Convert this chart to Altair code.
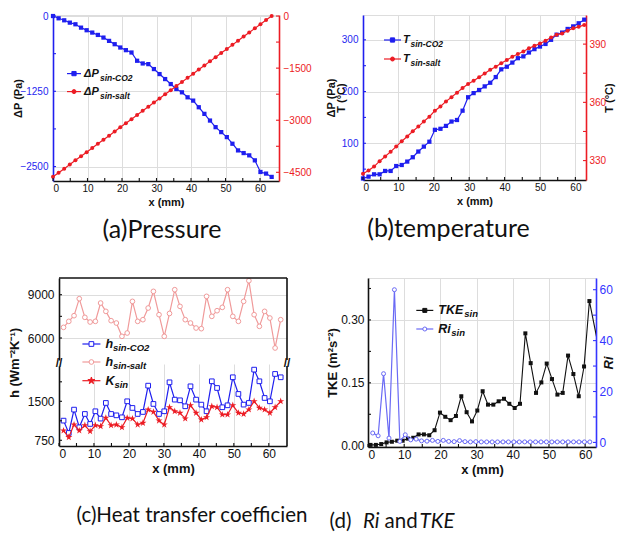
import altair as alt
import pandas as pd

BLUE = "#1f1fef"
RED = "#ec1c24"
PINK = "#f09a9a"
LBLUE = "#6a6af5"
RBLUE = "#3535ff"
BLACK = "#111111"
AXF = "Liberation Sans"
CAPF = "Lato"

# ---------------- (a) Pressure ----------------
XA = [0, 1.625, 3.25, 4.875, 6.5, 8.125, 9.75, 11.375, 13, 14.625, 16.25, 17.875, 19.5, 21.125,
      22.75, 24.375, 26, 27.625, 29.25, 30.875, 32.5, 34.125, 35.75, 37.375, 39, 40.625, 42.25,
      43.875, 45.5, 47.125, 48.75, 50.375, 52, 53.625, 55.25, 56.875, 58.5, 60.125, 61.75, 63.375]
DP_CO2 = [0, -38, -71, -110, -137, -193, -236, -275, -314, -358, -413, -468, -523, -567, -606,
          -743, -788, -799, -881, -964, -1047, -1130, -1212, -1267, -1350, -1405, -1515, -1625,
          -1736, -1846, -1928, -2011, -2121, -2232, -2276, -2314, -2397, -2590, -2617, -2672]
DP_SALT = [-4630, -4510, -4395, -4275, -4155, -4035, -3920, -3800, -3680, -3560, -3445, -3325,
           -3205, -3085, -2970, -2850, -2730, -2610, -2490, -2375, -2255, -2135, -2015, -1900,
           -1780, -1660, -1540, -1425, -1305, -1185, -1065, -950, -830, -710, -590, -475, -355,
           -235, -115, 0]

# ---------------- (b) temperature ----------------
XB = [0, 1.56, 3.13, 4.69, 6.25, 7.81, 9.38, 10.94, 12.5, 14.06, 15.63, 17.19, 18.75, 20.31,
      21.88, 23.44, 25, 26.56, 28.13, 29.69, 31.25, 32.81, 34.38, 35.94, 37.5, 39.06, 40.63,
      42.19, 43.75, 45.31, 46.88, 48.44, 50, 51.56, 53.13, 54.69, 56.25, 57.81, 59.38, 60.94, 62.5]
T_CO2 = [32, 35.5, 40, 40, 46.5, 46.5, 56, 58, 64.6, 73, 84, 93.6, 103, 126, 128, 133.6, 142, 145,
         163, 189, 197, 203, 210, 217, 228, 243, 248, 256, 264.5, 268, 275.5, 282, 287, 292, 300,
         310, 314, 321, 326, 332, 339]
T_SALT = [323.2, 324.9, 326.9, 329.7, 332.1, 334.6, 337.2, 340, 342.4, 345.1, 347.5, 350.2, 352.6,
          355.7, 357.9, 360.5, 362.6, 365, 367.4, 369.4, 371.1, 372.9, 374.9, 376.8, 378.3, 380.1,
          381.8, 383.5, 384.9, 386.2, 387.9, 389.1, 390.3, 391.7, 393.4, 394.8, 395.5, 396.9,
          398.2, 398.9, 399.9]

# ---------------- (c) heat transfer coefficient ----------------
XC = [1.3, 2.8, 4.3, 5.8, 7.4, 8.9, 10.4, 11.9, 13.4, 14.9, 16.4, 18.0, 19.5, 21.0, 22.5, 24.0,
      25.5, 27.0, 28.6, 30.1, 31.6, 33.1, 34.6, 36.1, 37.6, 39.2, 40.7, 42.2, 43.7, 45.2, 46.7,
      48.2, 49.7, 51.3, 52.8, 54.3, 55.8, 57.3, 58.8, 60.3, 61.8, 63.4]
H_SALT = [6738, 7154, 7546, 8723, 7431, 7108, 7154, 8423, 7846, 7200, 7038, 6115, 6346, 8538,
          7154, 7269, 8077, 9231, 7615, 6115, 7700, 9346, 8192, 7269, 7038, 6692, 6646, 8885,
          7500, 7892, 8123, 9346, 7500, 7154, 8538, 9969, 7615, 6808, 7846, 7385, 5308, 7269]
H_CO2 = [1128, 891, 1340, 1000, 1256, 1064, 1308, 1167, 1468, 1256, 1230, 1192, 1500, 1372, 1256,
         1295, 1801, 1449, 1256, 1308, 1865, 1532, 1519, 1404, 1788, 1532, 1436, 1308, 1885, 1756,
         1385, 1423, 1962, 1641, 1436, 1468, 2109, 1885, 1564, 1500, 2026, 1962]
K_SIN = [936, 808, 1051, 936, 1038, 923, 1038, 1019, 1180, 1038, 1051, 1000, 1180, 1167, 1051,
         1083, 1340, 1295, 1128, 1051, 1385, 1308, 1276, 1167, 1423, 1276, 1147, 1192, 1404, 1385,
         1244, 1244, 1423, 1276, 1256, 1340, 1500, 1372, 1340, 1276, 1385, 1500]

# ---------------- (d) Ri and TKE ----------------
XD_TKE = [0.7, 2.18, 3.65, 5.13, 6.6, 8.08, 9.55, 11.03, 12.5, 13.98, 15.45, 16.93, 18.4, 19.88,
          21.35, 22.83, 24.3, 25.78, 27.25, 28.73, 30.2, 31.68, 33.15, 34.63, 36.1, 37.58, 39.05,
          40.53, 42.0, 43.48, 44.95, 46.43, 47.9, 49.38, 50.85, 52.33, 53.8, 55.28, 56.75, 58.23,
          59.7, 61.18, 63.6]
TKE = [0.002, 0.002, 0.004, 0.008, 0.0095, 0.012, 0.012, 0.017, 0.019, 0.027, 0.027, 0.025, 0.037,
       0.079, 0.069, 0.061, 0.071, 0.118, 0.080, 0.058, 0.084, 0.130, 0.098, 0.098, 0.106, 0.112,
       0.100, 0.090, 0.100, 0.268, 0.197, 0.126, 0.151, 0.196, 0.159, 0.122, 0.126, 0.215, 0.171,
       0.118, 0.189, 0.345, 0.24]
XD_RI = [1.3, 2.8, 4.3, 5.8, 7.3, 8.8, 10.3, 11.8, 13.3, 14.8, 16.3, 17.8, 19.3, 20.8, 22.3, 23.8,
         25.3, 26.8, 28.3, 29.8, 31.3, 32.8, 34.3, 35.8, 37.3, 38.8, 40.3, 41.8, 43.3, 44.8, 46.3,
         47.8, 49.3, 50.8, 52.3, 53.8, 55.3, 56.8, 58.3, 59.8, 61.3]
RI = [3.7, 2.6, 27.0, 1.7, 60.0, 0.4, 3.0, 1.0, 1.3, 0.6, 0.5, 0.8, 0.4, 0.8, 0.4, 0.3, 0.7, 0.3,
      0.2, 0.3, 0.2, 0.2, 0.2, 0.2, 0.2, 0.2, 0.2, 0.2, 0.2, 0.2, 0.2, 0.2, 0.2, 0.2, 0.2, 0.2,
      0.2, 0.2, 0.2, 0.2, 0.2]

# tick positions (labelled ticks and the minor ticks between them)
XTICKS = [0, 10, 20, 30, 40, 50, 60]
XMINOR = [0, 5, 10, 15, 20, 25, 30, 35, 40, 45, 50, 55, 60]
TA_L = [-2500, -1875, -1250, -625, 0]
TA_R = [-4500, -3750, -3000, -2250, -1500, -750, 0]
TB_L = [50, 100, 150, 200, 250, 300]
TB_R = [330, 345, 360, 375, 390]
TC_U = [6000, 7500, 9000]
TC_L = [750, 1125, 1500, 1875]
TD_L = [0, 0.075, 0.15, 0.225, 0.30, 0.375]
TD_R = [0, 10, 20, 30, 40, 50, 60]

DUMMY = pd.DataFrame({"k": [0]})
STAR = ("M0,-1L0.2245,-0.309L0.951,-0.309L0.363,0.118L0.588,0.809L0,0.382L-0.588,0.809"
        "L-0.363,0.118L-0.951,-0.309L-0.2245,-0.309Z")
TL = 3  # inward tick length


def xaxis(fs, tfs):
    return alt.Axis(values=XTICKS, title="x (mm)", labelFontSize=fs, titleFontSize=tfs,
                    domainColor=BLACK, labelColor=BLACK, titleColor=BLACK, ticks=False,
                    labelPadding=2, titlePadding=3, domainWidth=1.6, format="d")


def yaxis(values, color, orient, fs, tfs, title="", fmt="d", **kw):
    args = dict(values=values, orient=orient, labelFontSize=fs, domainColor=color,
                labelColor=color, ticks=False, labelPadding=5, domainWidth=1.6, format=fmt,
                titleFontSize=tfs, titleColor=BLACK, title=title)
    args.update(kw)
    return alt.Axis(**args)


def xticks(xs, ax, h):
    return alt.Chart(pd.DataFrame({"x": XMINOR})).mark_rule(color=BLACK, strokeWidth=1.1).encode(
        x=alt.X("x:Q", scale=xs, axis=ax), y=alt.value(h), y2=alt.value(h - TL))


def yticks(vals, field, ys, ax, x0, tcolor):
    return alt.Chart(pd.DataFrame({field: vals})).mark_rule(color=tcolor, strokeWidth=1.1).encode(
        y=alt.Y(field + ":Q", scale=ys, axis=ax), x=alt.value(x0), x2=alt.value(x0 + TL))


def legend_item(x0, y, lc, shape, fill, msize, main, sub, main_w, fs, sfs, line_len, gap):
    base = alt.Chart(DUMMY)
    line = base.mark_rule(color=lc, strokeWidth=1.2).encode(
        x=alt.value(x0), x2=alt.value(x0 + line_len), y=alt.value(y))
    pt = base.mark_point(shape=shape, filled=True, fill=fill, stroke=lc, strokeWidth=1,
                         size=msize, opacity=1).encode(x=alt.value(x0 + line_len / 2), y=alt.value(y))
    t1 = base.mark_text(align="left", baseline="middle", font=AXF, fontSize=fs, fontWeight="bold",
                        fontStyle="italic", color=BLACK).encode(
        x=alt.value(x0 + line_len + gap), y=alt.value(y), text=alt.value(main))
    t2 = base.mark_text(align="left", baseline="middle", font=AXF, fontSize=sfs, fontWeight="bold",
                        fontStyle="italic", color=BLACK).encode(
        x=alt.value(x0 + line_len + gap + main_w), y=alt.value(y + 4), text=alt.value(sub))
    return [line, pt, t1, t2]


def caption(text, dx, offset, fs):
    return alt.TitleParams(text, orient="bottom", font=CAPF, fontSize=fs, fontWeight="normal",
                           color=BLACK, offset=offset, frame="group", anchor="middle", dx=dx)


def series(df, field, lc, xs, xax, ys, yax, marker, **mk):
    return alt.Chart(df).mark_line(color=lc, strokeWidth=1.2, point=alt.OverlayMarkDef(
        shape=marker, **mk)).encode(x=alt.X("x:Q", scale=xs, axis=xax),
                                    y=alt.Y(field + ":Q", scale=ys, axis=yax))


# ---------------- panel (a) ----------------
WA, HA = 226, 166
dfa = pd.DataFrame({"x": XA, "co2": DP_CO2, "salt": DP_SALT})
xsa = alt.Scale(domain=[0, 65.5], nice=False, zero=False)
xaa = xaxis(10, 11)
ysa_l = alt.Scale(domain=[-2740, 17], nice=False, zero=False)
yaa_l = yaxis([-2500, -1250, 0], BLUE, "left", 10, 11, "ΔP (Pa)", titleX=-30)
ysa_r = alt.Scale(domain=[-4750, 30], nice=False, zero=False)
yaa_r = yaxis([-4500, -3000, -1500, 0], RED, "right", 10, 11, labelPadding=4)
a_left = alt.layer(
    series(dfa, "co2", BLUE, xsa, xaa, ysa_l, yaa_l, "square", filled=True, color=BLUE, size=18),
    yticks(TA_L, "co2", ysa_l, yaa_l, 0, BLUE))
a_right = alt.layer(
    series(dfa, "salt", RED, xsa, xaa, ysa_r, yaa_r, "circle", filled=True, color=RED, size=16),
    yticks(TA_R, "salt", ysa_r, yaa_r, WA - TL, RED))
a_leg = (legend_item(14, 58.6, BLUE, "square", BLUE, 18, "ΔP", "sin-CO2", 16, 11, 8.5, 14, 3)
         + legend_item(14, 76.6, RED, "circle", RED, 16, "ΔP", "sin-salt", 16, 11, 8.5, 14, 3))
chart_a = alt.layer(alt.layer(a_left, a_right).resolve_scale(y="independent"),
                    xticks(xsa, xaa, HA), *a_leg).properties(
    width=WA, height=HA, title=caption("(a)Pressure", -4, 11, 25))

# ---------------- panel (b) ----------------
WB, HB = 223, 165
dfb = pd.DataFrame({"x": XB, "co2": T_CO2, "salt": T_SALT})
xsb = alt.Scale(domain=[0, 63], nice=False, zero=False)
xab = xaxis(10, 11)
ysb_l = alt.Scale(domain=[29, 348], nice=False, zero=False)
yab_l = yaxis([100, 200, 300], BLUE, "left", 10, 11, ["ΔP (Pa)", "T (°C)"],
              titleLineHeight=10, titleX=-27)
ysb_r = alt.Scale(domain=[320, 405], nice=False, zero=False)
yab_r = yaxis([330, 360, 390], RED, "right", 10, 11, "T (°C)", titleAngle=270,
              titleBaseline="top", titleX=17, labelPadding=3)
b_left = alt.layer(
    series(dfb, "co2", BLUE, xsb, xab, ysb_l, yab_l, "square", filled=True, color=BLUE, size=18),
    yticks(TB_L, "co2", ysb_l, yab_l, 0, BLUE))
b_right = alt.layer(
    series(dfb, "salt", RED, xsb, xab, ysb_r, yab_r, "circle", filled=True, color=RED, size=16),
    yticks(TB_R, "salt", ysb_r, yab_r, WB - TL, RED))
b_leg = (legend_item(21, 25, BLUE, "square", BLUE, 18, "T", "sin-CO2", 7.5, 11, 8.5, 17, 2)
         + legend_item(21, 44, RED, "circle", RED, 16, "T", "sin-salt", 7.5, 11, 8.5, 17, 2))
chart_b = alt.layer(alt.layer(b_left, b_right).resolve_scale(y="independent"),
                    xticks(xsb, xab, HB), *b_leg).properties(
    width=WB, height=HB, title=caption("(b)temperature", -26, 11, 25))

# ---------------- panel (c) (broken y axis) ----------------
OFF = 6
WCP = 228
WC, HC = WCP + OFF, 168
HUP, LOWTOP = 82, 88
dfc = pd.DataFrame({"x": XC, "co2": H_CO2, "salt": H_SALT, "k": K_SIN})
xsc = alt.Scale(domain=[0, 65.2], range=[OFF, WC], nice=False, zero=False)
xac = xaxis(12, 13)
ysc_u = alt.Scale(domain=[4476, 10157], range=[HUP, 0], nice=False, zero=False)
yac_u = yaxis([6000, 9000], BLACK, "left", 12, 13, offset=-OFF)
ysc_l = alt.Scale(domain=[640, 2179], range=[HC, LOWTOP], nice=False, zero=False)
yac_l = yaxis([750, 1500], BLACK, "left", 12, 13, offset=-OFF)
c_up = alt.layer(
    series(dfc, "salt", PINK, xsc, xac, ysc_u, yac_u, "circle", filled=True, fill="white",
           stroke=PINK, strokeWidth=1, size=22),
    yticks(TC_U, "salt", ysc_u, yac_u, OFF, BLACK))
c_low = alt.layer(
    series(dfc, "co2", BLUE, xsc, xac, ysc_l, yac_l, "square", filled=True, fill="white",
           stroke=BLUE, strokeWidth=1, size=22),
    series(dfc, "k", RED, xsc, xac, ysc_l, yac_l, STAR, filled=True, color=RED, size=55),
    yticks(TC_L, "co2", ysc_l, yac_l, OFF, BLACK))
c_data = alt.layer(c_up, c_low).resolve_scale(y="independent")
c_deco = [
    alt.Chart(DUMMY).mark_rule(color=BLACK, strokeWidth=1.6).encode(
        x=alt.value(OFF), x2=alt.value(WC), y=alt.value(0)),
    alt.Chart(DUMMY).mark_rule(color=BLACK, strokeWidth=1.6).encode(
        x=alt.value(WC), y=alt.value(0), y2=alt.value(HUP)),
    alt.Chart(DUMMY).mark_rule(color=BLACK, strokeWidth=1.6).encode(
        x=alt.value(WC), y=alt.value(LOWTOP), y2=alt.value(HC)),
]
brk = [alt.Chart(DUMMY).mark_text(font=AXF, fontSize=12, fontWeight="bold", color=BLACK,
                                  align="center", baseline="middle").encode(
    x=alt.value(xx), y=alt.value((HUP + LOWTOP) / 2), text=alt.value("//")) for xx in (OFF, WC)]
c_ytitle = alt.Chart(DUMMY).mark_text(font=AXF, fontSize=13, fontWeight="bold", color=BLACK,
                                      angle=270, align="center", baseline="middle").encode(
    x=alt.value(-38.5), y=alt.value((HUP + LOWTOP) / 2), text=alt.value("h (Wm⁻²K⁻¹)"))
c_leg = (legend_item(OFF + 23.4, 66, BLUE, "square", "white", 22, "h", "sin-CO2", 7.5, 12.5, 9.5, 18, 5)
         + legend_item(OFF + 23.4, 84, PINK, "circle", "white", 22, "h", "sin-salt", 7.5, 12.5, 9.5, 18, 5)
         + legend_item(OFF + 23.4, 102.7, RED, STAR, RED, 55, "K", "sin", 9, 12.5, 9.5, 18, 5))
chart_c = alt.layer(c_data, xticks(xsc, xac, HC), *c_deco, *brk, c_ytitle, *c_leg).properties(
    width=WC, height=HC, view=alt.ViewBackground(stroke="transparent"),
    title=caption("(c)Heat transfer coefficien", 22, 31, 20.5))

# ---------------- panel (d) ----------------
WD, HD = 228, 169
dft = pd.DataFrame({"x": XD_TKE, "tke": TKE})
dfr = pd.DataFrame({"x": XD_RI, "ri": RI})
xsd = alt.Scale(domain=[0, 63], nice=False, zero=False)
xad = xaxis(12, 13)
ysd_l = alt.Scale(domain=[-0.003, 0.40], nice=False, zero=False)
yad_l = yaxis([0, 0.15, 0.30], BLACK, "left", 12, 13, "TKE (m²s⁻²)", fmt=".2f",
              titleX=-29, labelPadding=4)
ysd_r = alt.Scale(domain=[-1.8, 64.6], nice=False, zero=False)
yad_r = yaxis([0, 20, 40, 60], RBLUE, "right", 12, 13, "Ri", titleAngle=270,
              titleBaseline="top", titleX=6, titleFontStyle="italic", labelPadding=3)
d_tke = alt.layer(
    alt.Chart(dft).mark_line(color=BLACK, strokeWidth=1.1, clip=True, point=alt.OverlayMarkDef(
        shape="square", filled=True, color=BLACK, size=16, clip=True)).encode(
        x=alt.X("x:Q", scale=xsd, axis=xad), y=alt.Y("tke:Q", scale=ysd_l, axis=yad_l)),
    yticks(TD_L, "tke", ysd_l, yad_l, 0, BLACK))
d_ri = alt.layer(
    series(dfr, "ri", LBLUE, xsd, xad, ysd_r, yad_r, "circle", filled=True, fill="white",
           stroke=LBLUE, strokeWidth=1, size=16),
    yticks(TD_R, "ri", ysd_r, yad_r, WD - TL, RBLUE))
d_leg = (legend_item(48.3, 32.4, BLACK, "square", BLACK, 16, "TKE", "sin", 26, 12.5, 9.5, 17, 5)
         + legend_item(48.3, 51, LBLUE, "circle", "white", 16, "Ri", "sin", 13, 12.5, 9.5, 17, 5))
cap_parts = [(-38.4, "(d)", "normal"), (-5, "Ri", "italic"), (16.6, "and", "normal"),
             (51.6, "TKE", "italic")]
d_cap = [alt.Chart(DUMMY).mark_text(font=CAPF, fontSize=20.5, fontStyle=st, color=BLACK,
                                    align="left", baseline="alphabetic").encode(
    x=alt.value(px), y=alt.value(250), text=alt.value(tx)) for px, tx, st in cap_parts]
chart_d = alt.layer(alt.layer(d_tke, d_ri).resolve_scale(y="independent"),
                    xticks(xsd, xad, HD), *d_leg, *d_cap).properties(width=WD, height=HD)

row1 = alt.hconcat(chart_a, chart_b, spacing=84, bounds="flush").resolve_scale(
    x="independent", y="independent")
row2 = alt.hconcat(chart_c, chart_d, spacing=81, bounds="flush").resolve_scale(
    x="independent", y="independent")
chart = alt.vconcat(row1, row2, spacing=31).resolve_scale(
    x="independent", y="independent").properties(
    padding={"left": 0, "top": 2, "right": 0, "bottom": 0}
).configure_view(stroke=BLACK, strokeWidth=1.6).configure_axis(
    labelFont=AXF, labelFontWeight="bold", titleFont=AXF, titleFontWeight="bold", grid=False,
    labelOverlap=False
).configure(background="white")

chart.save("out.html", embed_options={"renderer": "svg", "actions": False})
